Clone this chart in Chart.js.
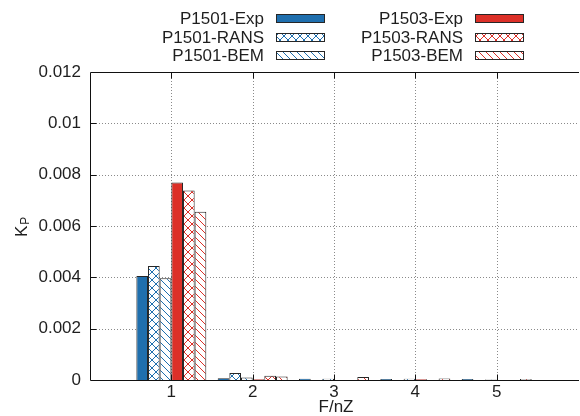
<!DOCTYPE html>
<html>
<head>
<meta charset="utf-8">
<script src="https://cdn.jsdelivr.net/npm/chart.js@4.4.0/dist/chart.umd.min.js"></script>
<style>
html, body { margin: 0; padding: 0; background: #fff; }
#wrap { width: 580px; height: 416px; position: relative; }
</style>
</head>
<body>
<div id="wrap"><canvas id="kp"></canvas></div>
<script>
// harmonic order F/nZ and measured / computed Kp per propeller
const harmonics = [1, 2, 3, 4, 5];
const seriesNames = ['P1501-Exp', 'P1501-RANS', 'P1501-BEM', 'P1503-Exp', 'P1503-RANS', 'P1503-BEM'];
const p1501Exp  = [0.00405, 0.00007, 0.00005, 0.00004, 0.00004];
const p1501Rans = [0.00444, 0.00027, 0.0,     0.0,     0.0];
const p1501Bem  = [0.00396, 0.00010, 0.00005, 0.00005, 0.00002];
const p1503Exp  = [0.00769, 0.00003, 0.0,     0.00003, 0.0];
const p1503Rans = [0.00738, 0.00017, 0.0,     0.0,     0.0];
const p1503Bem  = [0.00656, 0.00014, 0.00012, 0.00006, 0.00004];
const xTicks = [1, 2, 3, 4, 5];
const yTicks = [0, 0.002, 0.004, 0.006, 0.008, 0.01, 0.012];

const seriesValues = [p1501Exp, p1501Rans, p1501Bem, p1503Exp, p1503Rans, p1503Bem];
const BLUE = '#1f6fae', RED = '#dc3028', EDGE = '#262626', INK = '#1e1e1e';
const FONT = '"Liberation Sans", Arial, sans-serif';

const canvas = document.getElementById('kp');
const ctx0 = canvas.getContext('2d');

// diagonal hatch tile, "\" lines, optionally crossed with "/"
function hatch(color, cross, size) {
  const c = document.createElement('canvas');
  c.width = c.height = size;
  const g = c.getContext('2d');
  g.fillStyle = '#fff';
  g.fillRect(0, 0, size, size);
  g.strokeStyle = color;
  g.lineWidth = 1;
  g.beginPath();
  g.moveTo(-1, -1); g.lineTo(size + 1, size + 1);
  g.moveTo(-2, size - 2); g.lineTo(2, size + 2);
  g.moveTo(size - 2, -2); g.lineTo(size + 2, 2);
  if (cross) {
    g.moveTo(-1, size + 1); g.lineTo(size + 1, -1);
    g.moveTo(-2, 2); g.lineTo(2, -2);
    g.moveTo(size - 2, size + 2); g.lineTo(size + 2, size - 2);
  }
  g.stroke();
  return ctx0.createPattern(c, 'repeat');
}

const fills = [BLUE, hatch(BLUE, true, 8), hatch(BLUE, false, 7),
               RED, hatch(RED, true, 8), hatch(RED, false, 7)];

const datasets = seriesNames.map((name, i) => ({
  label: name,
  data: harmonics.map((h, j) => ({ x: h, y: seriesValues[i][j] })),
  backgroundColor: fills[i],
  borderColor: EDGE,
  borderWidth: 1,
  categoryPercentage: 0.86,
  barPercentage: 1
}));

const framePlugin = {
  id: 'frame',
  beforeDatasetsDraw(chart) {
    const { ctx, chartArea: a, scales: { x, y } } = chart;
    ctx.save();
    ctx.strokeStyle = '#8a8a8a';
    ctx.lineWidth = 1;
    ctx.setLineDash([1, 2]);
    ctx.beginPath();
    xTicks.forEach(v => {
      const px = Math.round(x.getPixelForValue(v)) + 0.5;
      ctx.moveTo(px, a.top); ctx.lineTo(px, a.bottom);
    });
    yTicks.slice(1, -1).forEach(v => {
      const py = Math.round(y.getPixelForValue(v)) + 0.5;
      ctx.moveTo(a.left, py); ctx.lineTo(a.right, py);
    });
    ctx.stroke();
    ctx.restore();
  },
  afterDatasetsDraw(chart) {
    const { ctx, chartArea: a, scales: { x, y } } = chart;
    const L = Math.round(a.left) + 0.5, T = Math.round(a.top) + 0.5, B = Math.round(a.bottom) + 0.5;
    ctx.save();
    ctx.strokeStyle = '#111';
    ctx.lineWidth = 1;
    ctx.beginPath();
    ctx.moveTo(a.right + 1, T); ctx.lineTo(L, T); ctx.lineTo(L, B); ctx.lineTo(a.right + 1, B);
    // inward tick marks
    xTicks.forEach(v => {
      const px = Math.round(x.getPixelForValue(v)) + 0.5;
      ctx.moveTo(px, B); ctx.lineTo(px, B - 6);
      ctx.moveTo(px, T); ctx.lineTo(px, T + 6);
    });
    yTicks.slice(1, -1).forEach(v => {
      const py = Math.round(y.getPixelForValue(v)) + 0.5;
      ctx.moveTo(L, py); ctx.lineTo(L + 6, py);
    });
    ctx.stroke();
    ctx.restore();
  },
  afterDraw(chart) {
    const { ctx } = chart;
    ctx.save();
    // legend: two columns, label right-aligned left of its swatch
    const textRight = [264, 463], boxLeft = [276, 475], rowTop = [14, 33, 51];
    ctx.font = '17px ' + FONT;
    ctx.textAlign = 'right';
    ctx.textBaseline = 'middle';
    chart.data.datasets.forEach((ds, i) => {
      const col = i < 3 ? 0 : 1, row = i % 3;
      ctx.fillStyle = INK;
      ctx.fillText(ds.label, textRight[col], rowTop[row] + 5);
      ctx.fillStyle = ds.backgroundColor;
      ctx.fillRect(boxLeft[col], rowTop[row], 48, 8);
      ctx.strokeStyle = EDGE;
      ctx.lineWidth = 1;
      ctx.strokeRect(boxLeft[col] + 0.5, rowTop[row] + 0.5, 48, 8);
    });
    // axis titles
    ctx.fillStyle = INK;
    ctx.textAlign = 'center';
    ctx.fillText('F/nZ', 336, 407);
    ctx.translate(27, 237);
    ctx.rotate(-Math.PI / 2);
    ctx.textAlign = 'left';
    ctx.textBaseline = 'alphabetic';
    ctx.font = '17px ' + FONT;
    ctx.fillText('K', 0, 0);
    const kw = ctx.measureText('K').width;
    ctx.font = '12px ' + FONT;
    ctx.fillText('P', kw + 1, 2);
    ctx.restore();
  }
};

new Chart(canvas, {
  type: 'bar',
  data: { datasets },
  options: {
    responsive: true,
    maintainAspectRatio: false,
    animation: false,
    layout: { padding: { top: 72, left: 0, right: 0, bottom: 0 } },
    plugins: { legend: { display: false }, tooltip: { enabled: false } },
    scales: {
      x: {
        type: 'linear',
        min: 0, max: 6,
        offset: false,
        grid: { display: false, drawTicks: false, offset: false },
        border: { display: false },
        afterFit: s => { s.height = 36; },
        afterBuildTicks: s => { s.ticks = [0, 1, 2, 3, 4, 5, 6].map(v => ({ value: v })); },
        ticks: {
          callback: v => xTicks.includes(v) ? String(v) : '',
          autoSkip: false, maxRotation: 0,
          padding: 2,
          color: INK,
          font: { family: FONT, size: 17 }
        }
      },
      y: {
        min: 0, max: 0.012,
        grid: { display: false, drawTicks: false },
        border: { display: false },
        afterFit: s => { s.width = 90; },
        afterBuildTicks: s => { s.ticks = yTicks.map(v => ({ value: v })); },
        ticks: {
          callback: v => String(parseFloat(v.toFixed(4))),
          padding: 9,
          color: INK,
          font: { family: FONT, size: 17 }
        }
      }
    }
  },
  plugins: [framePlugin]
});
</script>
</body>
</html>
